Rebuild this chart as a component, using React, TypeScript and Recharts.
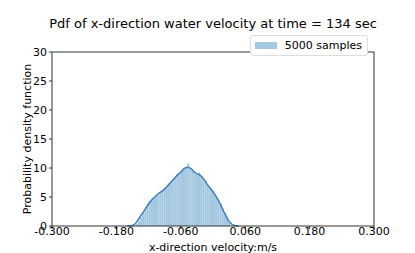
import { ComposedChart, Bar, Line, XAxis, YAxis, ReferenceLine, Legend } from 'recharts'

// histogram bins (bin centre, m/s) and density heights
const binCenters = [
  -0.142, -0.138, -0.134, -0.13, -0.126, -0.122, -0.118, -0.114, -0.11, -0.106,
  -0.102, -0.098, -0.094, -0.09, -0.086, -0.082, -0.078, -0.074, -0.07, -0.066,
  -0.062, -0.058, -0.054, -0.05, -0.046, -0.042, -0.038, -0.034, -0.03, -0.026,
  -0.022, -0.018, -0.014, -0.01, -0.006, -0.002, 0.002, 0.006, 0.01, 0.014,
  0.018, 0.022, 0.026, 0.03,
]
const binHeights = [
  0.3, 0.8, 1.5, 2.2, 2.8, 3.5, 4.3, 4.6, 5.0, 5.3,
  5.4, 5.9, 6.1, 6.4, 6.8, 7.2, 7.6, 8.1, 8.5, 9.0,
  9.3, 9.6, 10.0, 10.2, 10.8, 10.0, 9.6, 9.0, 8.8, 9.2,
  8.6, 8.2, 7.6, 7.0, 6.6, 6.1, 5.6, 5.0, 4.4, 3.8,
  3.0, 2.3, 1.4, 0.6,
]

// kernel density estimate
const kdeX = [
  -0.16, -0.15, -0.145, -0.14, -0.135, -0.13, -0.125, -0.12, -0.115, -0.11,
  -0.105, -0.1, -0.095, -0.09, -0.085, -0.08, -0.075, -0.07, -0.065, -0.06,
  -0.055, -0.05, -0.045, -0.04, -0.035, -0.03, -0.025, -0.02, -0.015, -0.01,
  -0.005, 0, 0.005, 0.01, 0.015, 0.02, 0.025, 0.03, 0.035, 0.04, 0.048,
]
const kdeY = [
  0, 0.1, 0.4, 1.0, 1.7, 2.4, 3.1, 3.8, 4.4, 4.9,
  5.3, 5.7, 6.0, 6.4, 6.9, 7.4, 7.9, 8.4, 8.9, 9.3,
  9.8, 10.1, 10.1, 9.8, 9.3, 9.0, 8.8, 8.4, 7.8, 7.1,
  6.5, 5.9, 5.2, 4.4, 3.5, 2.5, 1.6, 0.8, 0.3, 0.1, 0,
]

const xTicks = [-0.3, -0.18, -0.06, 0.06, 0.18, 0.3]
const yTicks = [0, 5, 10, 15, 20, 25, 30]

const histData = binCenters.map((x, i) => ({ x, h: binHeights[i] }))
const kdeData = kdeX.map((x, i) => ({ x, k: kdeY[i] }))

const font = 'DejaVu Sans, sans-serif'
const spine = '#333'
const histFill = '#a5c8e1'

// one histogram bin, centred on the scaled bin centre
function BinShape(props: any) {
  const { x, y, width, height } = props
  if (!height || height <= 0) return null
  const cx = x + width / 2
  return <rect x={cx - 1.1} y={y} width={2.2} height={height} fill={histFill} />
}

function LegendBox() {
  return (
    <div
      style={{
        display: 'flex',
        alignItems: 'center',
        border: '1px solid #ddd',
        borderRadius: 3,
        background: '#fff',
        padding: '3px 5px 3px 4px',
        fontFamily: font,
        fontSize: 11,
        color: '#000',
      }}
    >
      <div style={{ width: 22, height: 7, background: histFill, marginRight: 8 }} />
      <span>5000 samples</span>
    </div>
  )
}

export default function App() {
  return (
    <div style={{ position: 'absolute', left: 0, top: 0, width: 415, height: 253, background: '#fff' }}>
      <div
        style={{
          position: 'absolute',
          left: 0,
          width: 426,
          top: 16,
          textAlign: 'center',
          fontFamily: font,
          fontSize: 13,
          lineHeight: '15px',
          color: '#000',
          whiteSpace: 'nowrap',
        }}
      >
        Pdf of x-direction water velocity at time = 134 sec
      </div>
      <ComposedChart
        width={415}
        height={253}
        data={histData}
        margin={{ top: 31, right: 41, bottom: 0, left: 0 }}
        barCategoryGap={0}
      >
        <XAxis
          dataKey="x"
          type="number"
          domain={[-0.3, 0.3]}
          ticks={xTicks}
          tickFormatter={(v: number) => v.toFixed(3)}
          height={27}
          tickSize={3}
          tickMargin={0}
          stroke={spine}
          tick={{ fill: '#000', fontSize: 11, fontFamily: font, dy: -2 }}
          interval={0}
          allowDataOverflow
          label={{ value: 'x-direction velocity:m/s', position: 'insideBottom', offset: 2, fill: '#000', fontSize: 11, fontFamily: font }}
        />
        <YAxis
          type="number"
          domain={[0, 30]}
          ticks={yTicks}
          width={52}
          tickSize={3}
          tickMargin={2}
          stroke={spine}
          tick={{ fill: '#000', fontSize: 11, fontFamily: font }}
          interval={0}
          label={{ value: 'Probability density function', angle: -90, position: 'insideLeft', offset: 27, fill: '#000', fontSize: 11, fontFamily: font, style: { textAnchor: 'middle' } }}
        />
        <ReferenceLine y={30} stroke={spine} />
        <ReferenceLine x={0.3} stroke={spine} />
        <Legend
          verticalAlign="top"
          align="right"
          wrapperStyle={{ top: 35, right: 47, width: 'auto' }}
          content={() => <LegendBox />}
        />
        <Bar dataKey="h" fill={histFill} shape={BinShape} isAnimationActive={false} />
        <Line
          data={kdeData}
          dataKey="k"
          type="monotone"
          stroke="#3a80bd"
          strokeWidth={1.5}
          dot={false}
          isAnimationActive={false}
        />
      </ComposedChart>
    </div>
  )
}
